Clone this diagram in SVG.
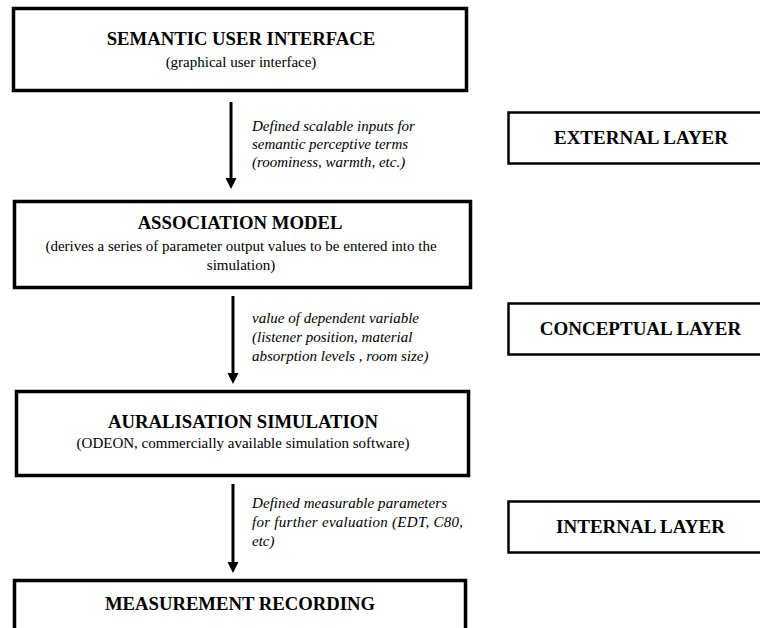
<svg xmlns="http://www.w3.org/2000/svg" width="760" height="628" viewBox="0 0 760 628">
<style>
.box{fill:#fff;stroke:#000;stroke-width:3.5}
.lay{fill:#fff;stroke:#000;stroke-width:2.5}
.t{font-family:"Liberation Serif",serif;font-weight:bold;font-size:18.7px;text-anchor:middle;fill:#000}
.tl{font-family:"Liberation Serif",serif;font-weight:bold;font-size:19px;text-anchor:middle;fill:#000}
.s{font-family:"Liberation Serif",serif;font-size:15px;text-anchor:middle;fill:#000}
.l{font-family:"Liberation Serif",serif;font-style:italic;font-size:15px;fill:#000}
.c{stroke:#000;stroke-width:3;fill:none}
</style>
<rect width="760" height="628" fill="#fff"/>
<g id="connectors">
<line class="c" x1="231" y1="102" x2="231" y2="180"/>
<path d="M225.5,178 L236.5,178 L231,189 Z" fill="#000"/>
<line class="c" x1="233" y1="296" x2="233" y2="375"/>
<path d="M227.5,373 L238.5,373 L233,384 Z" fill="#000"/>
<line class="c" x1="233" y1="484" x2="233" y2="564"/>
<path d="M227.5,562 L238.5,562 L233,573 Z" fill="#000"/>
<text class="l" x="252" y="131">Defined scalable inputs for</text>
<text class="l" x="252" y="149">semantic perceptive terms</text>
<text class="l" x="252" y="167">(roominess, warmth, etc.)</text>
<text class="l" x="252" y="323">value of dependent variable</text>
<text class="l" x="252" y="342">(listener position, material</text>
<text class="l" x="252" y="361">absorption levels , room size)</text>
<text class="l" x="252" y="508" textLength="195">Defined measurable parameters</text>
<text class="l" x="252" y="527" textLength="211">for further evaluation (EDT, C80,</text>
<text class="l" x="252" y="546">etc)</text>
</g>
<g id="semantic-ui">
<rect class="box" x="13.5" y="8.5" width="453" height="82"/>
<text class="t" x="241" y="45">SEMANTIC USER INTERFACE</text>
<text class="s" x="241" y="67">(graphical user interface)</text>
</g>
<g id="association-model">
<rect class="box" x="14.5" y="201.5" width="456" height="86"/>
<text class="t" x="240" y="229">ASSOCIATION MODEL</text>
<text class="s" x="241" y="251">(derives a series of parameter output values to be entered into the</text>
<text class="s" x="241" y="270">simulation)</text>
</g>
<g id="auralisation-simulation">
<rect class="box" x="16.5" y="391.5" width="452" height="84"/>
<text class="t" x="243" y="428">AURALISATION SIMULATION</text>
<text class="s" x="243" y="448">(ODEON, commercially available simulation software)</text>
</g>
<g id="measurement-recording">
<rect class="box" x="14.5" y="580.5" width="451" height="60"/>
<text class="t" x="240" y="610">MEASUREMENT RECORDING</text>
</g>
<g id="external-layer">
<rect class="lay" x="508.5" y="112.5" width="260" height="51"/>
<text class="tl" x="641" y="144">EXTERNAL LAYER</text>
</g>
<g id="conceptual-layer">
<rect class="lay" x="508.5" y="303.5" width="260" height="51"/>
<text class="tl" x="640.5" y="335">CONCEPTUAL LAYER</text>
</g>
<g id="internal-layer">
<rect class="lay" x="508.5" y="501.5" width="260" height="51"/>
<text class="tl" x="640.5" y="533">INTERNAL LAYER</text>
</g>
</svg>
